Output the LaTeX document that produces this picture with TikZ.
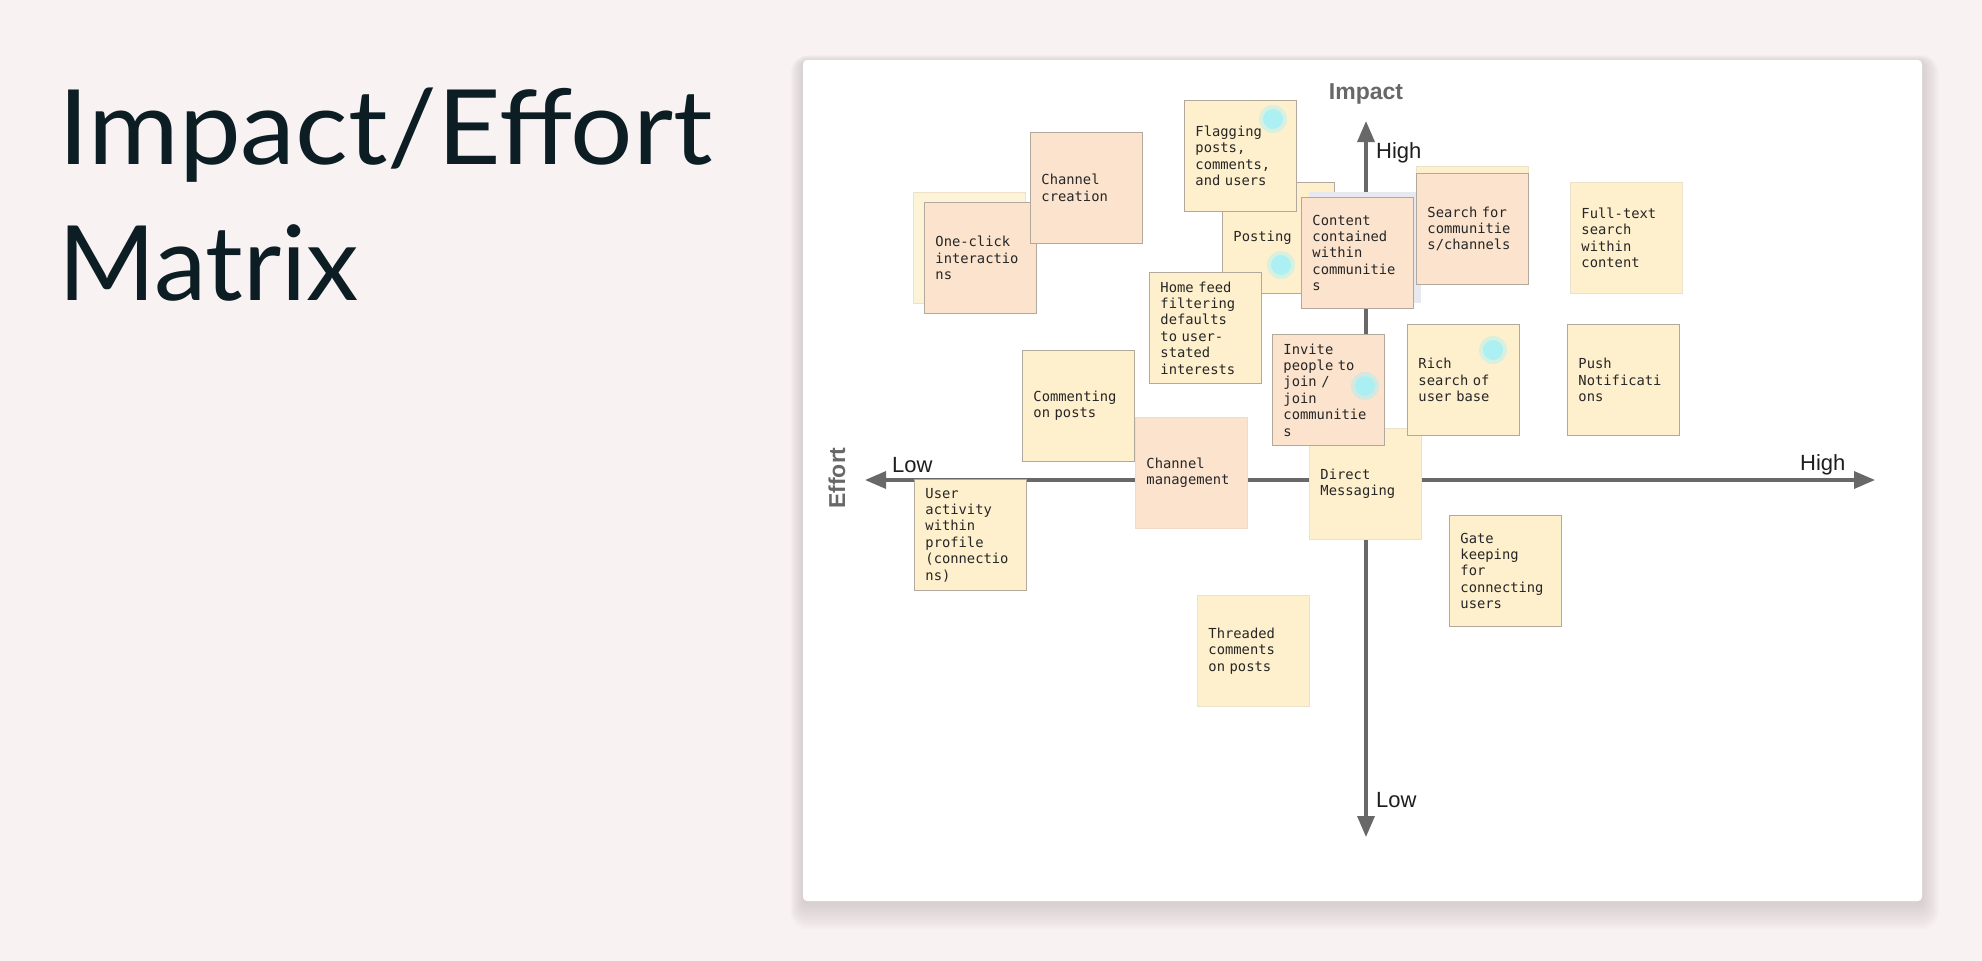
\documentclass[tikz,border=0pt]{standalone}
\usepackage{fontspec}
\setmainfont{Liberation Sans}
\newfontfamily\titlefont{Lato}
\newfontfamily\notefont{DejaVu Sans Mono}
\usetikzlibrary{arrows.meta}
\definecolor{pagebg}{RGB}{248,242,242}
\definecolor{titleink}{RGB}{12,30,36}
\definecolor{noteY}{RGB}{254,240,205}
\definecolor{noteP}{RGB}{251,227,205}
\definecolor{noteYl}{RGB}{253,244,216}
\definecolor{edge}{RGB}{178,168,155}
\definecolor{edgel}{RGB}{236,226,204}
\definecolor{edgep}{RGB}{242,218,198}
\definecolor{axisgray}{RGB}{104,104,104}
\definecolor{dotcyan}{RGB}{168,240,246}
\definecolor{ghost}{RGB}{232,233,240}
\definecolor{noteink}{RGB}{38,38,38}
\definecolor{labink}{RGB}{30,30,30}
\definecolor{shadowink}{RGB}{70,55,60}
\begin{document}
\begin{tikzpicture}[x=1pt,y=-1pt,
  note/.style={anchor=north west, rectangle, minimum width=112pt, minimum height=111pt,
    text width=90pt, inner xsep=11pt, inner ysep=0pt, align=left,
    font=\notefont\fontsize{13.8}{16.4}\selectfont, text=noteink, line width=0.9pt},
  yel/.style={note, fill=noteY, draw=edge},
  yelf/.style={note, fill=noteY, draw=edgel},
  pch/.style={note, fill=noteP, draw=edge},
  pchf/.style={note, fill=noteP, draw=edgep},
  axisline/.style={draw=axisgray, line width=3.4pt,
    {Triangle[length=21pt,width=17pt]}-{Triangle[length=21pt,width=17pt]}},
  axlbl/.style={inner sep=0pt, text=labink, font=\fontsize{22}{26}\selectfont},
  axtitle/.style={inner sep=0pt, text=axisgray, font=\bfseries\fontsize{23}{27}\selectfont},
  titletext/.style={anchor=base west, inner sep=0pt, text=titleink, font=\titlefont\fontsize{104}{120}\selectfont},
  dothalo/.style={circle, inner sep=0pt, minimum size=28pt, fill=dotcyan, opacity=0.45},
  dotmark/.style={circle, inner sep=0pt, minimum size=20pt, fill=dotcyan, opacity=0.9},
]
\useasboundingbox (0,0) rectangle (1982,961);
\fill[pagebg] (0,0) rectangle (1982,961);

% title
\node[titletext] (title1) at (58,164) {\scalebox{1.06}[1]{Impact/Effort}};
\node[titletext] (title2) at (58,300) {\scalebox{1.01}[1]{Matrix}};

% card shadow and card
\foreach \i in {1,...,14}{
  \fill[shadowink, opacity=0.011, rounded corners={4+\i}]
    ({803-0.9*\i},{62-0.5*\i}) rectangle ({1922+1.2*\i},{903+1.9*\i});
}
\fill[white, rounded corners=4pt] (803,60) rectangle (1922,901);

% axes
\coordinate (hl) at (865,480);
\coordinate (hr) at (1875,480);
\coordinate (vt) at (1366,121);
\coordinate (vb) at (1366,837);
\draw[axisline] (hl) -- (hr);
\draw[axisline] (vt) -- (vb);

\node[axtitle] (impact) at (1366,94) {Impact};
\node[axtitle, rotate=90] (effort) at (837,478) {Effort};
\node[axlbl, anchor=west] (hitop) at (1376,153) {High};
\node[axlbl, anchor=west] (loleft) at (892,465) {Low};
\node[axlbl, anchor=west] (hiright) at (1800,465) {High};
\node[axlbl, anchor=west] (lobot) at (1376,800) {Low};

% sticky notes
\node[note, fill=noteYl, draw=edgel] (oneback) at (913,192) {};
\node[pch] (oneclick) at (924,202) {One-click\\interactio\\ns};
\node[pch] (chancreate) at (1030,132) {Channel\\creation};
\node[yel] (posting) at (1222,182) {Posting};
\node[yel] (flagging) at (1184,100) {Flagging\\posts,\\comments,\\and users};
\node[note, fill=ghost, draw=none] (ghostnote) at (1309,192) {};
\node[pch] (content) at (1301,197) {Content\\contained\\within\\communitie\\s};
\node[yel] (homefeed) at (1149,272) {Home feed\\filtering\\defaults\\to user-\\stated\\interests};
\node[note, fill=noteY, draw=edgel] (searchback) at (1416,166) {};
\node[pch] (search) at (1416,173) {Search for\\communitie\\s/channels};
\node[yelf] (fulltext) at (1570,182) {Full-text\\search\\within\\content};
\node[yelf] (direct) at (1309,428) {Direct\\Messaging};
\node[pch] (invite) at (1272,334) {Invite\\people to\\join /\\join\\communitie\\s};
\node[yel] (rich) at (1407,324) {Rich\\search of\\user base};
\node[yel] (push) at (1567,324) {Push\\Notificati\\ons};
\node[yel] (commenting) at (1022,350) {Commenting\\on posts};
\node[pchf] (chanmanage) at (1135,417) {Channel\\management};
\node[yel] (useract) at (914,479) {User\\activity\\within\\profile\\(connectio\\ns)};
\node[yel] (gate) at (1449,515) {Gate\\keeping\\for\\connecting\\users};
\node[yelf] (threaded) at (1197,595) {Threaded\\comments\\on posts};

% cyan dots
\node[dothalo] (halo1) at (1273,119) {};
\node[dotmark] (dot1) at (1273,119) {};
\node[dothalo] (halo2) at (1281,265) {};
\node[dotmark] (dot2) at (1281,265) {};
\node[dothalo] (halo3) at (1365,386) {};
\node[dotmark] (dot3) at (1365,386) {};
\node[dothalo] (halo4) at (1493,350) {};
\node[dotmark] (dot4) at (1493,350) {};
\end{tikzpicture}
\end{document}
